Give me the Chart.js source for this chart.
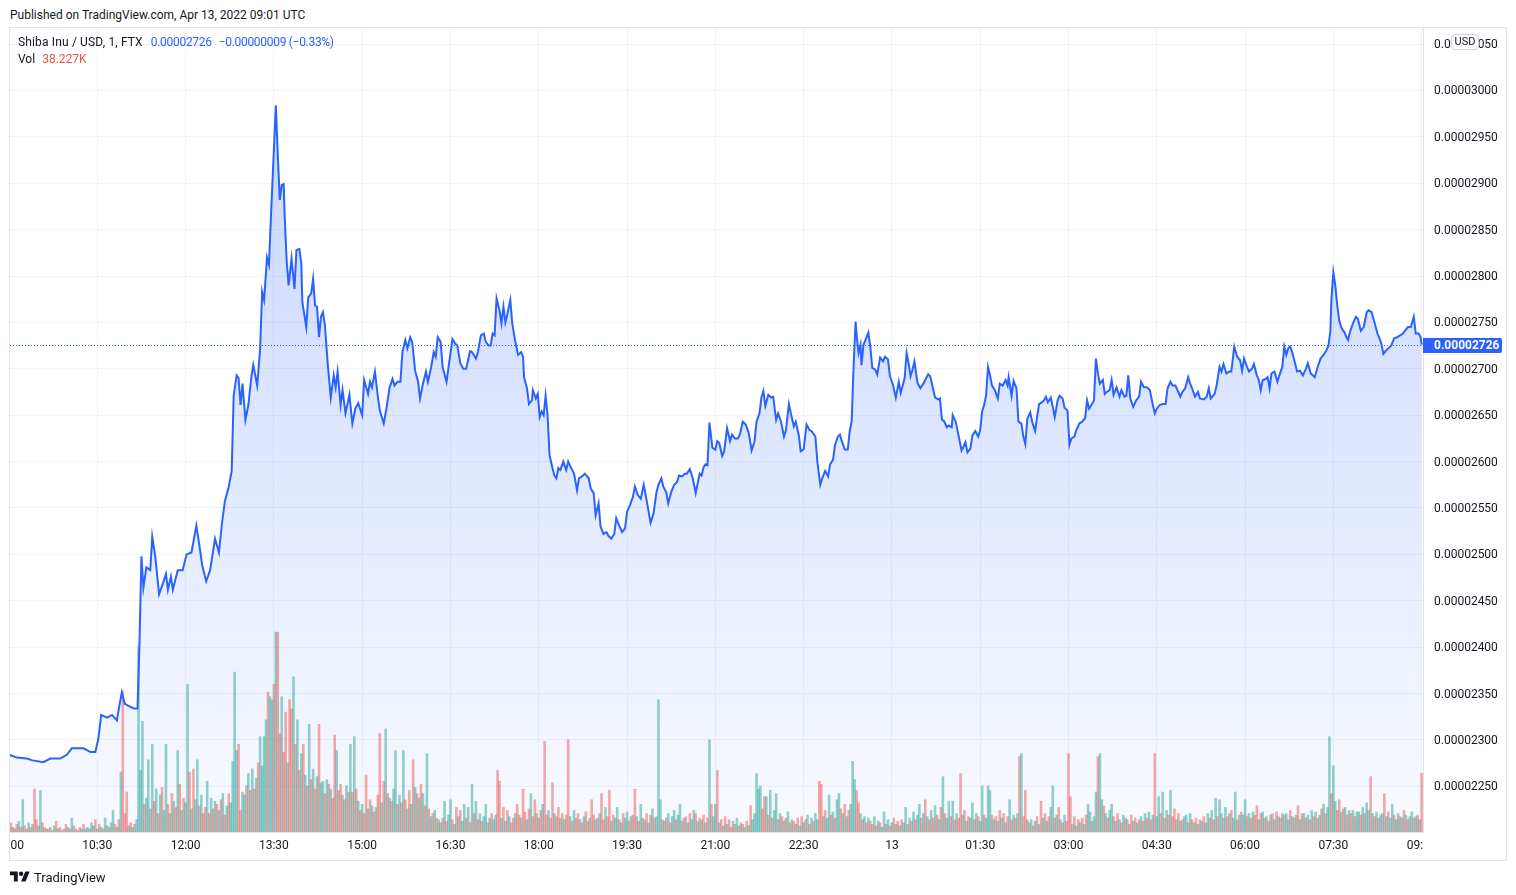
<!DOCTYPE html>
<html lang="en">
  <head>
    <meta charset="UTF-8" />
    <title>Shiba Inu / USD, 1, FTX</title>
    <script src="https://cdn.jsdelivr.net/npm/chart.js@4.4.0/dist/chart.umd.min.js"></script>
    <style>
      html, body { margin: 0; padding: 0; background: #ffffff; }
      body {
        position: relative; width: 1516px; height: 895px; overflow: hidden;
        font-family: Roboto, "Noto Sans", sans-serif; color: #131722;
      }
      #chart { position: absolute; left: 0; top: 0; }
      .label { position: absolute; font-size: 12px; line-height: 14px; white-space: nowrap; }
      .wide { letter-spacing: 0.15px; }
      .blue { color: #2962ff; margin-left: 8px; letter-spacing: -0.3px; }
      .red { color: #ef5350; margin-left: 7px; }
      #usd {
        position: absolute; left: 1451px; top: 34px; width: 28px; height: 16px;
        box-sizing: border-box; border: 1px solid #d1d4dc; border-radius: 4px;
        background: #ffffff; font-size: 11px; line-height: 14px; text-align: center;
      }
      #footer { position: absolute; left: 10px; top: 869px; display: flex; align-items: center; font-size: 13px; }
      #footer svg { margin-right: 4px; }
    </style>
  </head>
  <body>
    <div class="label" style="left: 10px; top: 8px">Published on TradingView.com, Apr 13, 2022 09:01 UTC</div>
    <canvas id="chart" width="1516" height="895"></canvas>
    <div class="label" style="left: 18px; top: 35px"><span class="wide">Shiba Inu / USD, 1, FTX</span><span class="blue">0.00002726</span><span class="blue" style="margin-left: 7px">−0.00000009 (−0.33%)</span></div>
    <div class="label" style="left: 18px; top: 52px">Vol<span class="red">38.227K</span></div>
    <div id="usd">USD</div>
    <div id="footer">
      <svg width="20" height="16" viewBox="0 0 36 28"><path d="M14 22H7V11H0V4h14v18zM28 22h-8l7.5-18h8L28 22z" fill="#131722"/><circle cx="20" cy="8" r="4" fill="#131722"/></svg>
      <span>TradingView</span>
    </div>

    <script>
      // price in units of 0.00000001 USD, time in minutes after 09:00 (Apr 12)
      const priceTimes = [
        0, 8, 18, 24, 35, 42, 52, 59, 64, 76,
        83, 88, 91, 94, 100, 105, 110, 112, 115, 118,
        127, 131, 133, 135, 137, 140, 144, 146, 149, 153,
        157, 160, 162, 165, 167, 172, 177, 181, 186, 191,
        194, 197, 201, 205, 210, 214, 217, 220, 224, 227,
        229, 232, 234, 236, 238, 241, 244, 247, 249, 253,
        256, 258, 260, 263, 265, 267, 269, 272, 274, 276,
        278, 280, 281, 283, 285, 288, 291, 293, 296, 298,
        299, 303, 305, 308, 310, 312, 314, 316, 318, 320,
        322, 325, 328, 331, 333, 335, 338, 340, 343, 347,
        350, 353, 356, 360, 362, 366, 368, 370, 373, 376,
        378, 382, 385, 388, 391, 393, 396, 399, 401, 404,
        406, 409, 411, 414, 417, 419, 422, 425, 427, 430,
        433, 435, 437, 440, 442, 446, 449, 452, 455, 457,
        460, 463, 466, 470, 472, 476, 478, 481, 484, 486,
        489, 491, 493, 495, 497, 500, 502, 504, 506, 508,
        511, 513, 516, 519, 522, 524, 525, 528, 530, 533,
        534, 537, 539, 541, 543, 545, 547, 549, 551, 554,
        556, 558, 560, 562, 565, 568, 570, 573, 576, 579,
        581, 584, 587, 591, 593, 596, 598, 601, 603, 606,
        609, 611, 614, 617, 619, 622, 625, 628, 630, 633,
        636, 638, 641, 644, 647, 649, 652, 654, 657, 660,
        662, 665, 667, 670, 672, 675, 678, 681, 683, 686,
        689, 691, 694, 697, 700, 704, 706, 708, 710, 712,
        714, 717, 720, 722, 724, 727, 729, 732, 735, 737,
        740, 743, 745, 748, 751, 754, 757, 760, 762, 765,
        767, 769, 771, 774, 777, 779, 782, 784, 787, 790,
        792, 795, 797, 800, 802, 805, 807, 810, 813, 816,
        818, 822, 824, 827, 829, 832, 835, 837, 840, 842,
        845, 847, 849, 852, 855, 857, 859, 861, 863, 864,
        866, 868, 869, 871, 873, 876, 878, 880, 883, 885,
        888, 891, 893, 896, 898, 901, 904, 907, 909, 913,
        915, 917, 919, 921, 923, 926, 929, 932, 935, 937,
        939, 941, 944, 947, 949, 951, 953, 956, 958, 961,
        962, 965, 968, 971, 973, 975, 977, 980, 982, 985,
        988, 990, 992, 994, 996, 998, 1000, 1002, 1005, 1008,
        1010, 1013, 1016, 1018, 1019, 1022, 1024, 1027, 1029, 1032,
        1034, 1036, 1038, 1041, 1043, 1046, 1048, 1050, 1053, 1055,
        1057, 1059, 1062, 1064, 1066, 1069, 1071, 1074, 1076, 1079,
        1081, 1083, 1086, 1088, 1091, 1094, 1097, 1099, 1101, 1104,
        1106, 1108, 1110, 1112, 1115, 1117, 1119, 1122, 1124, 1126,
        1129, 1132, 1134, 1137, 1139, 1141, 1143, 1146, 1149, 1152,
        1154, 1157, 1160, 1163, 1166, 1168, 1170, 1173, 1176, 1179,
        1181, 1184, 1186, 1189, 1192, 1194, 1196, 1199, 1202, 1204,
        1206, 1209, 1212, 1214, 1218, 1221, 1223, 1225, 1229, 1231,
        1234, 1236, 1238, 1241, 1244, 1246, 1249, 1252, 1255, 1257,
        1259, 1262, 1264, 1267, 1269, 1272, 1274, 1276, 1278, 1281,
        1283, 1285, 1287, 1290, 1293, 1295, 1298, 1300, 1302, 1304,
        1306, 1308, 1311, 1313, 1316, 1319, 1322, 1324, 1327, 1329,
        1331, 1334, 1337, 1340, 1343, 1345, 1347, 1348, 1350, 1352,
        1354, 1356, 1358, 1360, 1361, 1363, 1365, 1367, 1370, 1373,
        1375, 1378, 1381, 1384, 1386, 1389, 1392, 1395, 1397, 1399,
        1401, 1404, 1406, 1409, 1412, 1415, 1418, 1421, 1423, 1426,
        1429, 1432, 1434, 1437, 1439, 1440
      ];
      const priceValues = [
        2284, 2281, 2280, 2278, 2276, 2280, 2280, 2284, 2291, 2291,
        2287, 2287, 2301, 2327, 2324, 2327, 2321, 2334, 2351, 2339,
        2334, 2334, 2405, 2498, 2464, 2486, 2483, 2519, 2498, 2457,
        2469, 2479, 2462, 2476, 2462, 2483, 2483, 2500, 2502, 2531,
        2510, 2488, 2471, 2483, 2517, 2502, 2533, 2557, 2573, 2590,
        2671, 2693, 2690, 2661, 2684, 2645, 2661, 2691, 2704, 2682,
        2722, 2783, 2774, 2820, 2812, 2864, 2912, 2984, 2930, 2882,
        2898, 2899, 2865, 2817, 2790, 2819, 2786, 2828, 2829, 2813,
        2772, 2745, 2777, 2781, 2797, 2768, 2767, 2734, 2756, 2761,
        2747, 2704, 2669, 2693, 2680, 2697, 2661, 2677, 2652, 2672,
        2641, 2657, 2663, 2650, 2688, 2673, 2686, 2680, 2697, 2670,
        2655, 2641, 2659, 2680, 2689, 2682, 2686, 2686, 2718, 2731,
        2722, 2734, 2729, 2698, 2686, 2668, 2684, 2697, 2686, 2700,
        2718, 2713, 2734, 2729, 2702, 2686, 2709, 2732, 2727, 2725,
        2706, 2700, 2700, 2719, 2718, 2711, 2718, 2736, 2738, 2729,
        2725, 2725, 2738, 2736, 2776, 2763, 2749, 2767, 2750, 2759,
        2774, 2749, 2730, 2715, 2718, 2713, 2691, 2679, 2662, 2666,
        2677, 2668, 2673, 2648, 2654, 2650, 2671, 2650, 2607, 2593,
        2585, 2582, 2593, 2591, 2600, 2591, 2600, 2593, 2587, 2569,
        2582, 2584, 2587, 2582, 2571, 2566, 2542, 2555, 2530, 2522,
        2524, 2520, 2517, 2522, 2539, 2531, 2524, 2528, 2546, 2553,
        2562, 2573, 2564, 2560, 2575, 2564, 2546, 2534, 2544, 2567,
        2575, 2582, 2573, 2567, 2555, 2567, 2575, 2578, 2585, 2584,
        2587, 2587, 2592, 2582, 2566, 2587, 2585, 2594, 2597, 2596,
        2642, 2615, 2613, 2622, 2620, 2606, 2611, 2636, 2622, 2629,
        2625, 2625, 2629, 2643, 2640, 2631, 2612, 2622, 2643, 2652,
        2669, 2676, 2660, 2672, 2669, 2670, 2645, 2652, 2643, 2627,
        2634, 2662, 2652, 2638, 2643, 2629, 2611, 2613, 2640, 2634,
        2633, 2627, 2600, 2575, 2582, 2590, 2584, 2597, 2602, 2618,
        2627, 2629, 2622, 2613, 2613, 2633, 2643, 2704, 2751, 2737,
        2717, 2726, 2704, 2726, 2731, 2739, 2724, 2701, 2699, 2694,
        2712, 2708, 2713, 2710, 2692, 2683, 2669, 2686, 2674, 2690,
        2717, 2706, 2692, 2699, 2708, 2685, 2679, 2684, 2690, 2694,
        2692, 2683, 2669, 2667, 2668, 2645, 2644, 2637, 2639, 2637,
        2650, 2643, 2628, 2612, 2616, 2621, 2610, 2614, 2628, 2633,
        2627, 2634, 2654, 2661, 2671, 2702, 2693, 2682, 2677, 2668,
        2684, 2682, 2688, 2682, 2691, 2671, 2687, 2679, 2643, 2641,
        2627, 2619, 2646, 2653, 2643, 2633, 2648, 2662, 2664, 2666,
        2670, 2664, 2669, 2659, 2648, 2666, 2671, 2668, 2658, 2655,
        2618, 2625, 2627, 2634, 2641, 2643, 2647, 2666, 2657, 2662,
        2666, 2711, 2695, 2684, 2688, 2673, 2675, 2677, 2688, 2672,
        2680, 2670, 2677, 2670, 2671, 2693, 2668, 2659, 2666, 2670,
        2686, 2680, 2680, 2677, 2661, 2652, 2657, 2661, 2662, 2662,
        2679, 2686, 2682, 2682, 2675, 2670, 2675, 2679, 2691, 2684,
        2679, 2670, 2675, 2668, 2667, 2670, 2679, 2668, 2673, 2682,
        2702, 2697, 2705, 2695, 2697, 2697, 2724, 2713, 2709, 2698,
        2711, 2702, 2697, 2700, 2705, 2693, 2688, 2677, 2688, 2689,
        2691, 2679, 2695, 2697, 2686, 2693, 2702, 2724, 2715, 2722,
        2724, 2718, 2706, 2697, 2698, 2693, 2700, 2706, 2695, 2693,
        2691, 2702, 2711, 2715, 2720, 2725, 2741, 2774, 2804, 2790,
        2768, 2752, 2745, 2741, 2740, 2735, 2731, 2740, 2749, 2756,
        2754, 2741, 2745, 2761, 2763, 2761, 2750, 2738, 2733, 2727,
        2716, 2720, 2722, 2725, 2733, 2734, 2736, 2738, 2741, 2745,
        2745, 2756, 2738, 2738, 2734, 2726
      ];

      // volume in thousands, one bar per 2 minutes starting 09:00
      const volumeValues = [
        4, 6, 3, 2, 5, 7, 3, 21, 4, 2, 6, 3, 5, 28, 8, 4, 27, 6, 3, 2,
        2, 3, 1, 4, 7, 2, 3, 1, 2, 5, 3, 2, 9, 4, 2, 1, 3, 2, 5, 2,
        3, 2, 6, 4, 8, 2, 5, 3, 2, 9, 4, 3, 6, 14, 5, 3, 8, 39, 92, 12,
        26, 4, 6, 3, 5, 8, 121, 40, 72, 18, 22, 47, 15, 57, 20, 28, 12, 24, 29, 14,
        57, 18, 12, 25, 20, 16, 53, 31, 14, 22, 19, 96, 39, 15, 41, 21, 47, 17, 24, 12,
        16, 33, 12, 22, 15, 20, 18, 14, 21, 25, 11, 17, 25, 19, 46, 104, 53, 57, 14, 26,
        24, 30, 38, 27, 41, 28, 35, 45, 62, 43, 62, 73, 91, 88, 86, 96, 130, 130, 64, 88,
        52, 78, 45, 86, 80, 101, 57, 73, 40, 51, 57, 37, 30, 70, 34, 41, 28, 36, 70, 32,
        33, 25, 34, 31, 28, 22, 63, 53, 27, 31, 24, 21, 30, 26, 57, 26, 62, 28, 20, 14,
        18, 12, 37, 15, 21, 17, 13, 16, 24, 64, 19, 33, 67, 25, 22, 20, 28, 53, 18, 24,
        19, 53, 21, 15, 27, 18, 47, 29, 25, 22, 31, 25, 17, 51, 15, 10, 12, 14, 9, 8,
        6, 9, 20, 7, 11, 21, 8, 5, 16, 10, 14, 7, 18, 9, 16, 6, 31, 12, 20, 8,
        12, 7, 10, 18, 6, 9, 12, 8, 11, 40, 33, 9, 16, 7, 14, 10, 6, 9, 12, 18,
        11, 9, 28, 13, 8, 15, 25, 10, 21, 12, 9, 14, 18, 59, 11, 14, 9, 32, 12, 10,
        16, 9, 12, 8, 11, 60, 10, 7, 14, 9, 12, 8, 6, 10, 13, 7, 9, 21, 11, 8,
        9, 12, 25, 8, 16, 10, 27, 7, 11, 9, 16, 8, 6, 12, 9, 13, 7, 10, 11, 28,
        10, 7, 18, 9, 8, 12, 6, 11, 15, 9, 10, 86, 21, 8, 7, 9, 12, 6, 10, 14,
        8, 11, 18, 7, 9, 10, 6, 12, 8, 14, 12, 7, 9, 8, 11, 6, 9, 60, 18, 10,
        18, 40, 6, 8, 4, 10, 5, 8, 3, 7, 5, 9, 4, 6, 5, 3, 7, 4, 17, 8,
        12, 38, 28, 30, 15, 23, 23, 11, 27, 9, 14, 25, 8, 12, 10, 7, 9, 13, 6, 8,
        7, 5, 9, 4, 10, 6, 8, 11, 5, 9, 7, 12, 8, 33, 31, 10, 14, 9, 24, 11,
        13, 9, 21, 25, 15, 12, 18, 10, 14, 18, 46, 34, 27, 19, 12, 8, 10, 6, 9, 7,
        5, 10, 4, 7, 6, 3, 13, 5, 8, 4, 6, 9, 5, 7, 4, 8, 6, 16, 5, 9,
        7, 13, 8, 11, 18, 9, 12, 21, 10, 8, 14, 9, 17, 11, 8, 16, 36, 12, 9, 20,
        10, 20, 8, 12, 9, 38, 11, 14, 7, 10, 9, 19, 8, 12, 10, 7, 30, 11, 9, 30,
        27, 11, 8, 10, 7, 14, 9, 12, 6, 10, 21, 8, 11, 9, 12, 49, 51, 10, 27, 8,
        6, 8, 4, 7, 10, 5, 20, 9, 12, 7, 10, 16, 30, 9, 11, 16, 8, 6, 11, 7,
        51, 23, 5, 10, 4, 8, 6, 9, 5, 11, 18, 13, 7, 10, 26, 49, 51, 21, 17, 12,
        9, 14, 18, 10, 7, 12, 8, 6, 11, 9, 8, 5, 11, 7, 9, 6, 8, 10, 7, 12,
        9, 13, 8, 11, 51, 10, 23, 12, 26, 9, 14, 11, 27, 10, 15, 8, 12, 7, 8, 10,
        11, 6, 12, 8, 6, 9, 5, 8, 7, 10, 6, 12, 9, 14, 8, 22, 10, 21, 12, 9,
        16, 10, 12, 14, 9, 26, 8, 11, 13, 11, 21, 10, 12, 9, 13, 11, 17, 8, 12, 13,
        9, 10, 7, 11, 12, 8, 13, 10, 9, 12, 11, 12, 8, 14, 10, 9, 11, 17, 8, 12,
        12, 9, 11, 8, 14, 10, 13, 9, 11, 15, 18, 12, 16, 62, 25, 43, 20, 14, 21, 13,
        15, 16, 11, 14, 12, 14, 10, 13, 13, 11, 16, 12, 19, 14, 36, 12, 10, 13, 9, 11,
        12, 25, 10, 13, 9, 18, 11, 8, 12, 10, 9, 14, 11, 8, 10, 13, 9, 10, 11, 8, 38.227
      ];
      // u = up (green) bar, d = down (red) bar
      const volumeSides = (
        "u d d u d u d u d d u d u d d u u d d u " +
        "d u d u d u d d u d u d u d u d d u d u " +
        "u d u u d u d u d u u d u u d u d u d d " +
        "d u d u d u u u u d u u d u d u d u d u " +
        "u d u d u d u d u d u u d u d u u d u d " +
        "d u d u d u d u d u d u d u u u u d d u " +
        "u d u d u d u d u u u u d u u d u d d u " +
        "d d u d d u d u d u d u d u d u d u d u " +
        "u d u d u d d u d d u d u d u d u d u d " +
        "u d d u d u d u d d u d u d u d u u d u " +
        "d u d u d u d u d u d u d u d u d u d u " +
        "u d u d u u d u d u d u u d u d u d u d " +
        "u d u u d u d u u d d u d u d u d d u d " +
        "d u d d u d u d d u d d u d d u d d u d " +
        "d u d u d d u d u d d u d u d d u d d u " +
        "d u d d u d d u d u u d u d u u d u d d " +
        "u d u d u d u d u d u u u d u d u d u u " +
        "d u u d u d u d u u d u d u d u d u d u " +
        "u d u d u d u d d u d u d u d u d u d u " +
        "u u u u d d u d u d u u d u d u d u d u " +
        "d u d u d u d u d u d u u d d u d u u d " +
        "u d u u d u d u d u u u d d u d u d u d " +
        "d u d u d u u d u d u d u d u d u u d u " +
        "d u d u u d u d u d u d u d u d u d u u " +
        "d u d u d d u d u d u u d u d u u d u u " +
        "u d u d u d u d u d u d u d u d u d d u " +
        "d u d u d u d u d u d u u d u d u d u d " +
        "d d u d u d u d u d u u d u u d u u d u " +
        "d u u d u d u d u d u d d u d u d u d u " +
        "d u d u d u u d u d u d u d d u d u d u " +
        "u d u d u d u d u d u u d u d u d u u d " +
        "u d u d u u d u d u u d u d u d d u d u " +
        "d u d u d u d u d u d u u d u d u d u d " +
        "u d u d u d u d u d u d u u d u u d d u " +
        "d u d u d u d u u d u d u u d u d u d u " +
        "u d u d u u d u u d u d u d u u d u d u d"
      ).split(" ");

      // time axis ticks every 90 minutes
      const timeTicks = [0, 90, 180, 270, 360, 450, 540, 630, 720, 810, 900, 990, 1080, 1170, 1260, 1350, 1440];
      const timeTickLabels = ["09:00", "10:30", "12:00", "13:30", "15:00", "16:30", "18:00", "19:30",
        "21:00", "22:30", "13", "01:30", "03:00", "04:30", "06:00", "07:30", "09:00"];
      const priceTicks = [2250, 2300, 2350, 2400, 2450, 2500, 2550, 2600, 2650, 2700,
        2750, 2800, 2850, 2900, 2950, 3000, 3050];
      const lastPrice = 2726;

      const upColor = "rgba(38, 166, 154, 0.5)";
      const downColor = "rgba(239, 83, 80, 0.5)";

      const priceData = priceTimes.map((t, i) => ({ x: t, y: priceValues[i] }));
      const volumeData = volumeValues.map((v, i) => ({ x: i * 2, y: v }));
      const volumeColors = volumeValues.map((v, i) => (volumeSides[i] === "d" ? downColor : upColor));

      const fmtPrice = (v) => (v / 1e8).toFixed(8);

      // extra drawing: last-price dotted line, price badge, clipped time labels, frame
      const paneOverlay = {
        id: "paneOverlay",
        afterDatasetsDraw(chart) {
          const { ctx, chartArea, scales } = chart;
          const y = Math.round(scales.y.getPixelForValue(lastPrice)) + 0.5;
          ctx.save();
          ctx.strokeStyle = "#2962ff";
          ctx.lineWidth = 1;
          ctx.setLineDash([1, 2]);
          ctx.beginPath();
          ctx.moveTo(chartArea.left, y);
          ctx.lineTo(chartArea.right, y);
          ctx.stroke();
          ctx.restore();
        },
        afterDraw(chart) {
          const { ctx, chartArea, scales } = chart;
          const x = scales.x;
          const yScale = scales.y;

          ctx.save();
          ctx.beginPath();
          ctx.rect(chartArea.left, x.top, chartArea.right - chartArea.left, x.height);
          ctx.clip();
          ctx.font = "12px Roboto";
          ctx.fillStyle = "#131722";
          ctx.textAlign = "center";
          ctx.textBaseline = "middle";
          timeTicks.forEach((t, i) => {
            ctx.fillText(timeTickLabels[i], x.getPixelForValue(t), x.top + 14);
          });
          ctx.restore();

          const y = Math.round(yScale.getPixelForValue(lastPrice));
          ctx.save();
          ctx.fillStyle = "#2962ff";
          ctx.beginPath();
          ctx.roundRect(yScale.left, y - 7, 79, 15, [0, 2, 2, 0]);
          ctx.fill();
          ctx.fillStyle = "#ffffff";
          ctx.font = "bold 12px Roboto";
          ctx.textAlign = "left";
          ctx.textBaseline = "middle";
          ctx.fillText(fmtPrice(lastPrice), yScale.left + 11, y + 1);
          ctx.restore();

          ctx.save();
          ctx.strokeStyle = "#e0e3eb";
          ctx.lineWidth = 1;
          ctx.strokeRect(9.5, 27.5, 1497, 833);
          ctx.restore();
        }
      };

      const ctx = document.getElementById("chart").getContext("2d");
      new Chart(ctx, {
        type: "line",
        data: {
          datasets: [
            {
              type: "line",
              data: priceData,
              borderColor: "#2962ff",
              borderWidth: 2,
              pointRadius: 0,
              tension: 0,
              fill: "start",
              backgroundColor: (c) => {
                const area = c.chart.chartArea;
                if (!area) return "rgba(41, 98, 255, 0.12)";
                const g = c.chart.ctx.createLinearGradient(0, area.top, 0, area.bottom);
                g.addColorStop(0, "rgba(41, 98, 255, 0.28)");
                g.addColorStop(1, "rgba(41, 98, 255, 0.03)");
                return g;
              },
              yAxisID: "y",
              order: 0,
            },
            {
              type: "bar",
              data: volumeData,
              backgroundColor: volumeColors,
              borderWidth: 0,
              barPercentage: 1,
              categoryPercentage: 1,
              yAxisID: "yv",
              order: 1,
            },
          ],
        },
        options: {
          responsive: false,
          animation: false,
          events: [],
          layout: { padding: { left: 10, top: 28, right: 10, bottom: 35 } },
          plugins: {
            legend: { display: false },
            tooltip: { enabled: false },
            filler: { drawTime: "beforeDatasetsDraw" },
          },
          scales: {
            x: {
              type: "linear",
              offset: false,
              min: 1,
              max: 1441.4,
              afterBuildTicks: (axis) => {
                axis.ticks = timeTicks.filter((t) => t > 1 && t < 1441).map((t) => ({ value: t }));
              },
              afterFit: (axis) => { axis.height = 28; },
              ticks: { display: false },
              grid: { color: "#f0f3fa", drawTicks: false, offset: false },
              border: { color: "#e0e3eb" },
            },
            y: {
              position: "right",
              min: 2200.8,
              max: 3067.3,
              afterBuildTicks: (axis) => {
                axis.ticks = priceTicks.map((v) => ({ value: v }));
              },
              afterFit: (axis) => { axis.width = 83; },
              ticks: {
                callback: (v) => fmtPrice(v),
                font: { family: "Roboto", size: 12 },
                color: "#131722",
                padding: 11,
                labelOffset: 1,
              },
              grid: { color: "#f0f3fa", drawTicks: false },
              border: { color: "#e0e3eb" },
            },
            yv: {
              display: false,
              min: 0,
              max: 523,
            },
          },
        },
        plugins: [paneOverlay],
      });
    </script>
  </body>
</html>
